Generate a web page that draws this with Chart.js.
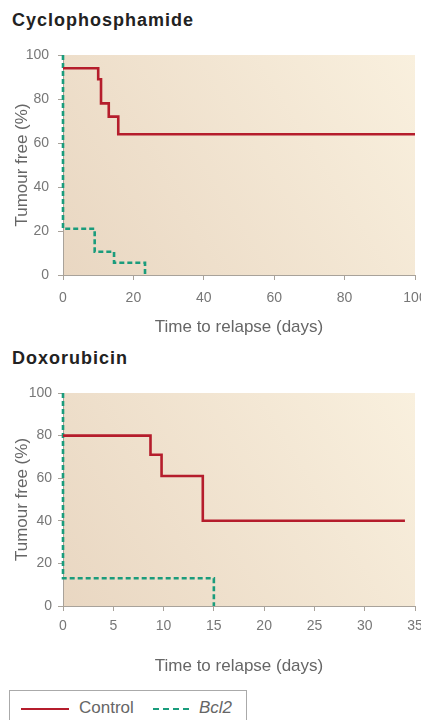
<!DOCTYPE html>
<html><head><meta charset="utf-8">
<script src="https://cdn.jsdelivr.net/npm/chart.js@4/dist/chart.umd.min.js"></script>
<style>
html,body{margin:0;padding:0;background:#fff;width:421px;height:720px;overflow:hidden;font-family:"Liberation Sans",Arial,sans-serif;}
.box{position:absolute;left:0;width:421px;}
.ttl{position:absolute;left:12px;font-weight:bold;font-size:18px;color:#222;letter-spacing:1px;line-height:20px;}
#legend{position:absolute;left:9px;top:690px;width:238px;height:40px;border:1px solid #aaa;box-sizing:border-box;font-size:17px;color:#666;}
#legend .l1{position:absolute;left:11px;top:17px;width:48px;height:0;border-top:2px solid #b51d2c;}
#legend .t1{position:absolute;left:69px;top:7px;}
#legend .l2{position:absolute;left:143px;top:17px;width:36px;height:0;border-top:2px dashed #1a9c7c;}
#legend .t2{position:absolute;left:189px;top:7px;font-style:italic;}
</style></head>
<body>
<div class="ttl" style="top:10px">Cyclophosphamide</div>
<div class="box" style="top:0;height:345px"><canvas id="c1"></canvas></div>
<div class="ttl" style="top:348px">Doxorubicin</div>
<div class="box" style="top:340px;height:340px"><canvas id="c2"></canvas></div>
<div id="legend"><div class="l1"></div><div class="t1">Control</div><div class="l2"></div><div class="t2">Bcl2</div></div>
<script>
// Chart 1: Cyclophosphamide (Kaplan-Meier step points)
const cycloControlX = [0, 10, 10.8, 13, 15.7, 100];
const cycloControlY = [94, 89, 78, 72, 64, 64];
const cycloBcl2X = [0, 0, 9, 14.5, 23.3];
const cycloBcl2Y = [100, 21, 10.6, 5.6, 0];
const cycloXTicks = [0, 20, 40, 60, 80, 100];
// Chart 2: Doxorubicin
const doxoControlX = [0, 8.7, 9.8, 13.9, 34];
const doxoControlY = [80, 71, 61, 40, 40];
const doxoBcl2X = [0, 0, 15];
const doxoBcl2Y = [100, 13, 0];
const doxoXTicks = [0, 5, 10, 15, 20, 25, 30, 35];
const yTicks = [0, 20, 40, 60, 80, 100];
const seriesNames = ['Control', 'Bcl2'];

const pts = (xs, ys) => xs.map((x, i) => ({x, y: ys[i]}));
const FONT = '"Liberation Sans", Arial, sans-serif';

const bgPlugin = {
  id: 'bg',
  beforeDraw(chart) {
    const {ctx, chartArea: a} = chart;
    const g = ctx.createLinearGradient(a.left, a.bottom, a.right, a.top);
    g.addColorStop(0, '#e9d7c2');
    g.addColorStop(1, '#f9f0de');
    ctx.save();
    ctx.fillStyle = g;
    ctx.fillRect(a.left, a.top, a.right - a.left, a.bottom - a.top);
    ctx.restore();
  }
};

function make(id, cfg) {
  return new Chart(document.getElementById(id), {
    type: 'line',
    data: {
      datasets: [
        {label: seriesNames[0], data: pts(cfg.cx, cfg.cy), borderColor: '#b51d2c', borderWidth: 2.6,
         stepped: 'before', pointRadius: 0, fill: false, clip: 6},
        {label: seriesNames[1], data: pts(cfg.bx, cfg.by), borderColor: '#1a9c7c', borderWidth: 2.6,
         borderDash: [5, 3], stepped: 'before', pointRadius: 0, fill: false, clip: 6}
      ]
    },
    options: {
      responsive: true, maintainAspectRatio: false, animation: false,
      layout: {padding: {top: cfg.padTop, right: 6, left: 0, bottom: 0}},
      plugins: {legend: {display: false}, tooltip: {enabled: false}},
      scales: {
        x: {
          type: 'linear', min: 0, max: cfg.xmax,
          afterBuildTicks: s => { s.ticks = cfg.xt.map(v => ({value: v})); },
          afterFit: s => { s.height = cfg.xh; s.paddingRight = 0; s.paddingLeft = 0; },
          grid: {drawOnChartArea: false, tickLength: 5, color: '#a8a29a'},
          border: {color: '#a8a29a', width: 1},
          ticks: {color: '#777', font: {family: FONT, size: 14}, padding: cfg.xpad, maxRotation: 0, autoSkip: false},
          title: {display: true, text: 'Time to relapse (days)', color: '#666',
                  font: {family: FONT, size: 17}, padding: {top: 0, bottom: cfg.xtpad}}
        },
        y: {
          min: 0, max: 100,
          afterBuildTicks: s => { s.ticks = yTicks.map(v => ({value: v})); },
          afterFit: s => { s.width = 63; },
          grid: {drawOnChartArea: false, tickLength: 5, color: '#a8a29a'},
          border: {color: '#a8a29a', width: 1},
          ticks: {color: '#777', font: {family: FONT, size: 14}, padding: cfg.ypad},
          title: {display: true, text: 'Tumour free (%)', color: '#666',
                  font: {family: FONT, size: 17}, padding: {top: 12, bottom: 0}}
        }
      }
    },
    plugins: [bgPlugin]
  });
}

make('c1', {cx: cycloControlX, cy: cycloControlY, bx: cycloBcl2X, by: cycloBcl2Y, xmax: 100, xt: cycloXTicks,
            padTop: 55, xh: 70, xpad: 10, xtpad: 7, ypad: 9});
make('c2', {cx: doxoControlX, cy: doxoControlY, bx: doxoBcl2X, by: doxoBcl2Y, xmax: 35, xt: doxoXTicks,
            padTop: 53, xh: 74, xpad: 7, xtpad: 3, ypad: 6});
</script>
</body></html>
